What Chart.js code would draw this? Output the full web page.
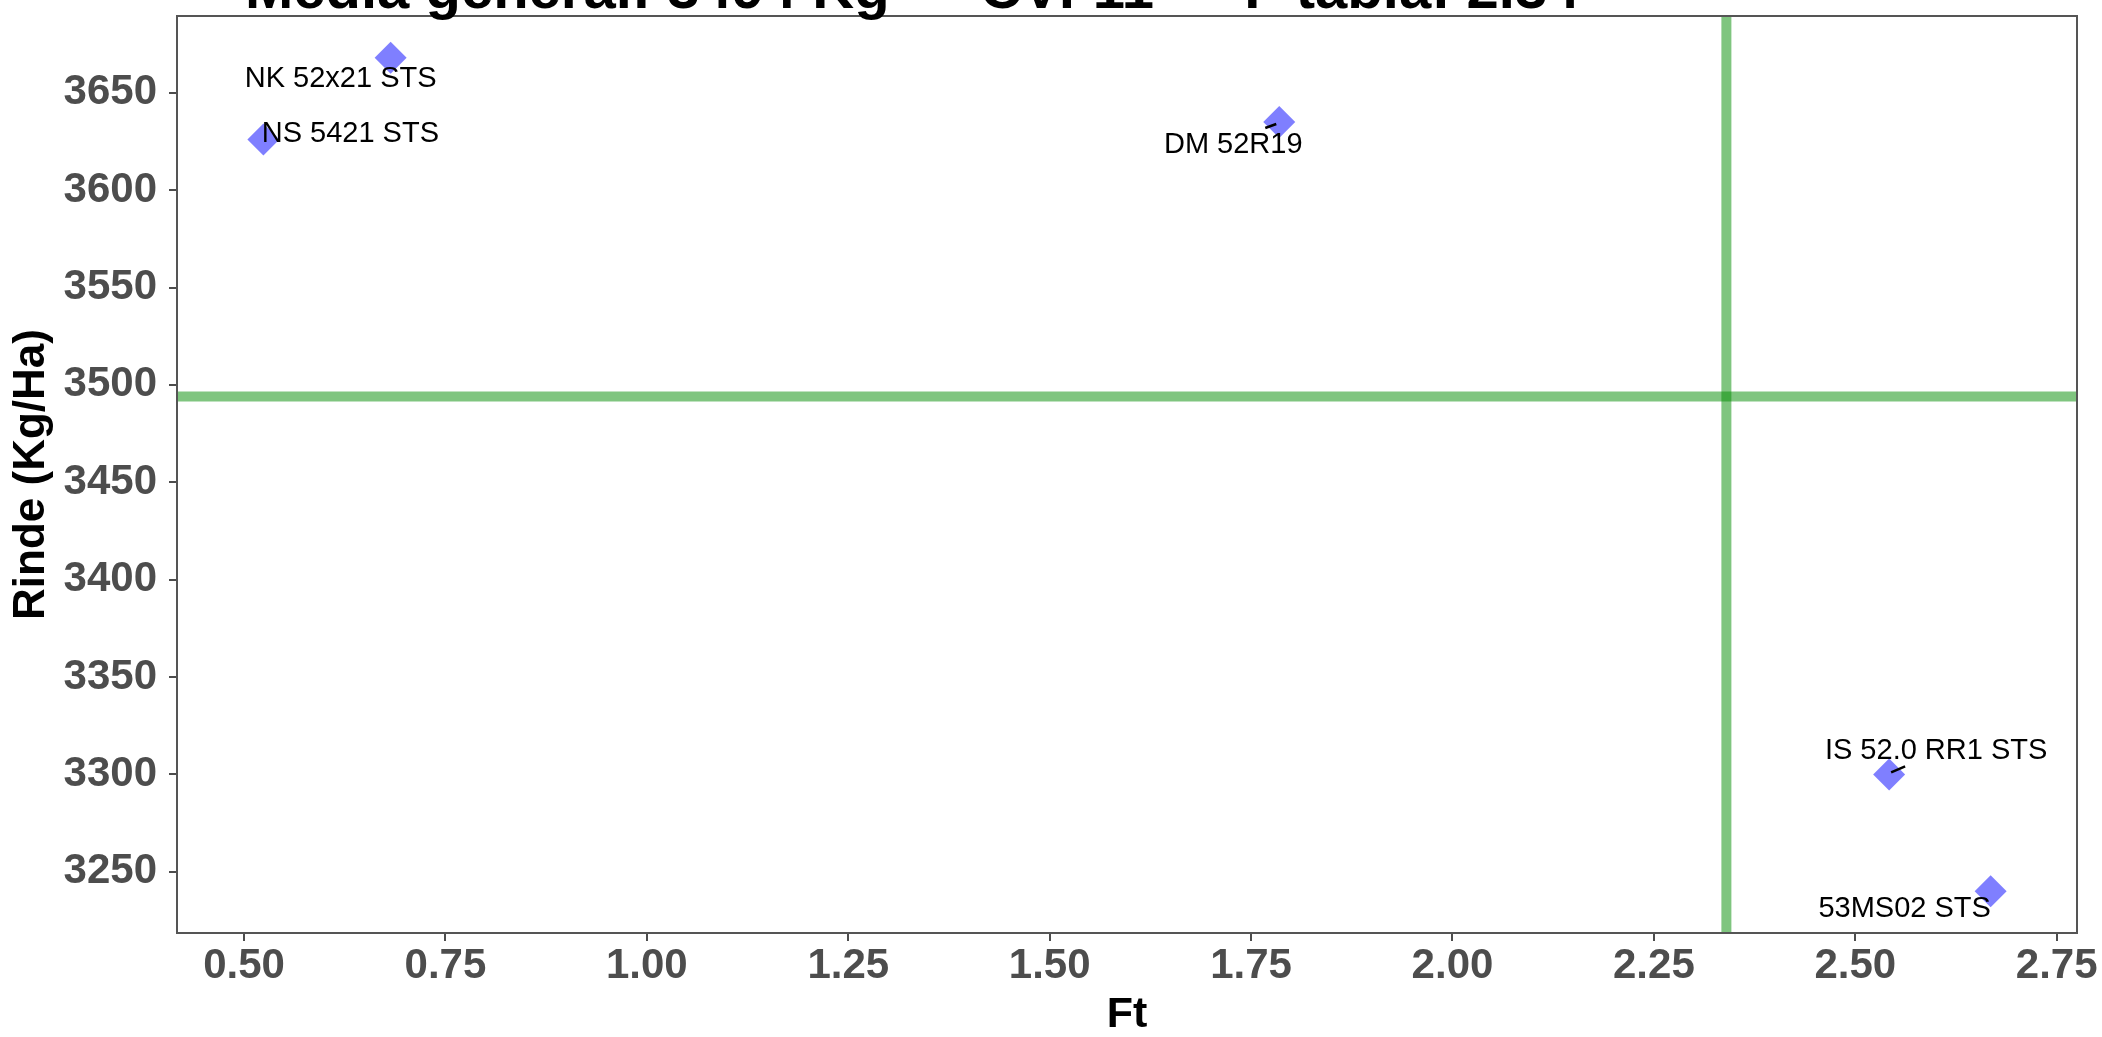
<!DOCTYPE html>
<html>
<head>
<meta charset="utf-8">
<title>Rinde vs Ft</title>
<script src="https://cdn.jsdelivr.net/npm/chart.js@4"></script>
<style>
  html, body { margin: 0; padding: 0; background: #fff; }
</style>
</head>
<body>
<canvas id="myChart" width="2102" height="1037"></canvas>
<script>
// datos
const variedades = ['NK 52x21 STS', 'NS 5421 STS', 'DM 52R19', 'IS 52.0 RR1 STS', '53MS02 STS']
const ft = [0.682, 0.524, 1.785, 2.542, 2.668]
const rinde = [3668, 3626, 3635, 3300, 3240]
const mediaGeneral = 3494
const cv = 11
const fTabla = 2.34
const xTicks = [0.5, 0.75, 1, 1.25, 1.5, 1.75, 2, 2.25, 2.5, 2.75]
const yTicks = [3250, 3300, 3350, 3400, 3450, 3500, 3550, 3600, 3650]

// posicion de cada etiqueta respecto de su punto (px)
const desplazamientos = [
  { dx: -50, dy: 21 },
  { dx: 87, dy: -5 },
  { dx: -46, dy: 23, guia: [-14, 6, -3, 2] },
  { dx: 47, dy: -23, guia: [2, -2, 16, -8] },
  { dx: -86, dy: 18 }
]

// limites como ggplot: 5% de expansion
function expandir(vals) {
  const lo = Math.min(...vals), hi = Math.max(...vals)
  const d = (hi - lo) * 0.05
  return [lo - d, hi + d]
}
const [xMin, xMax] = expandir(ft.concat([fTabla]))
const [yMin, yMax] = expandir(rinde.concat([mediaGeneral]))

const fuente = '"Liberation Sans", Arial, Helvetica, sans-serif'
Chart.defaults.font.family = fuente

const lineasRef = {
  id: 'lineasRef',
  beforeDatasetsDraw(chart) {
    const { ctx, chartArea: a, scales: { x, y } } = chart
    const px = x.getPixelForValue(fTabla)
    const py = y.getPixelForValue(mediaGeneral)
    ctx.save()
    ctx.strokeStyle = 'rgba(0,139,0,0.5)'
    ctx.lineWidth = 10
    ctx.beginPath()
    ctx.moveTo(a.left, py)
    ctx.lineTo(a.right, py)
    ctx.stroke()
    ctx.beginPath()
    ctx.moveTo(px, a.top)
    ctx.lineTo(px, a.bottom)
    ctx.stroke()
    ctx.restore()
  }
}

const etiquetas = {
  id: 'etiquetas',
  afterDatasetsDraw(chart) {
    const { ctx, chartArea: a } = chart
    const meta = chart.getDatasetMeta(0)
    ctx.save()
    // marco del panel
    ctx.strokeStyle = '#555'
    ctx.lineWidth = 2
    ctx.strokeRect(a.left, a.top, a.right - a.left, a.bottom - a.top)

    ctx.font = '29px ' + fuente
    ctx.fillStyle = '#000'
    ctx.textAlign = 'center'
    ctx.textBaseline = 'middle'
    meta.data.forEach((pt, i) => {
      const o = desplazamientos[i]
      if (o.guia) {
        ctx.strokeStyle = '#000'
        ctx.lineWidth = 2.5
        ctx.beginPath()
        ctx.moveTo(pt.x + o.guia[0], pt.y + o.guia[1])
        ctx.lineTo(pt.x + o.guia[2], pt.y + o.guia[3])
        ctx.stroke()
      }
      ctx.fillText(variedades[i], pt.x + o.dx, pt.y + o.dy)
    })
    ctx.restore()
  }
}

const titulo = {
  id: 'titulo',
  afterDraw(chart) {
    const { ctx } = chart
    ctx.save()
    ctx.font = 'bold 58px ' + fuente
    ctx.fillStyle = '#000'
    ctx.textAlign = 'left'
    ctx.textBaseline = 'alphabetic'
    ctx.fillText(`Media general: ${mediaGeneral} Kg — CV: ${cv} — F tabla: ${fTabla}`, 245, 8)
    ctx.restore()
  }
}

const tickFont = { size: 42, weight: 'bold', family: fuente }

const ctx = document.getElementById('myChart').getContext('2d')
const myChart = new Chart(ctx, {
  type: 'scatter',
  data: {
    datasets: [{
      label: 'Rinde',
      data: ft.map((v, i) => ({ x: v, y: rinde[i] })),
      pointStyle: 'rectRot',
      pointRadius: 16,
      pointHoverRadius: 16,
      pointBorderWidth: 0,
      backgroundColor: 'rgba(0,0,255,0.5)',
      borderColor: 'rgba(0,0,255,0)'
    }]
  },
  options: {
    responsive: false,
    animation: false,
    layout: { padding: { top: 11, right: 25, bottom: 0, left: 0 } },
    plugins: {
      legend: { display: false },
      tooltip: { enabled: false }
    },
    scales: {
      x: {
        type: 'linear',
        min: xMin,
        max: xMax,
        afterBuildTicks: s => { s.ticks = xTicks.map(v => ({ value: v })) },
        afterFit: s => { s.height = 104; s.paddingLeft = 0; s.paddingRight = 0 },
        ticks: {
          font: tickFont,
          color: '#4D4D4D',
          padding: 0,
          maxRotation: 0,
          autoSkip: false,
          callback: v => v.toFixed(2)
        },
        grid: { drawOnChartArea: false, drawTicks: true, tickLength: 8, color: '#4D4D4D', lineWidth: 2 },
        border: { display: false },
        title: {
          display: true,
          text: 'Ft',
          color: '#000',
          font: { size: 43, weight: 'bold', lineHeight: 1 },
          padding: { top: 0, bottom: 0 }
        }
      },
      y: {
        type: 'linear',
        min: yMin,
        max: yMax,
        afterBuildTicks: s => { s.ticks = yTicks.map(v => ({ value: v })) },
        afterFit: s => { s.width = 177; s.paddingTop = 0; s.paddingBottom = 0 },
        ticks: {
          font: tickFont,
          color: '#4D4D4D',
          padding: 12,
          autoSkip: false,
          callback: v => String(v)
        },
        grid: { drawOnChartArea: false, drawTicks: true, tickLength: 8, color: '#4D4D4D', lineWidth: 2 },
        border: { display: false },
        title: {
          display: true,
          text: 'Rinde (Kg/Ha)',
          color: '#000',
          font: { size: 44, weight: 'bold', lineHeight: 1 },
          padding: { top: 10, bottom: 0 }
        }
      }
    }
  },
  plugins: [lineasRef, etiquetas, titulo]
})
</script>
</body>
</html>
